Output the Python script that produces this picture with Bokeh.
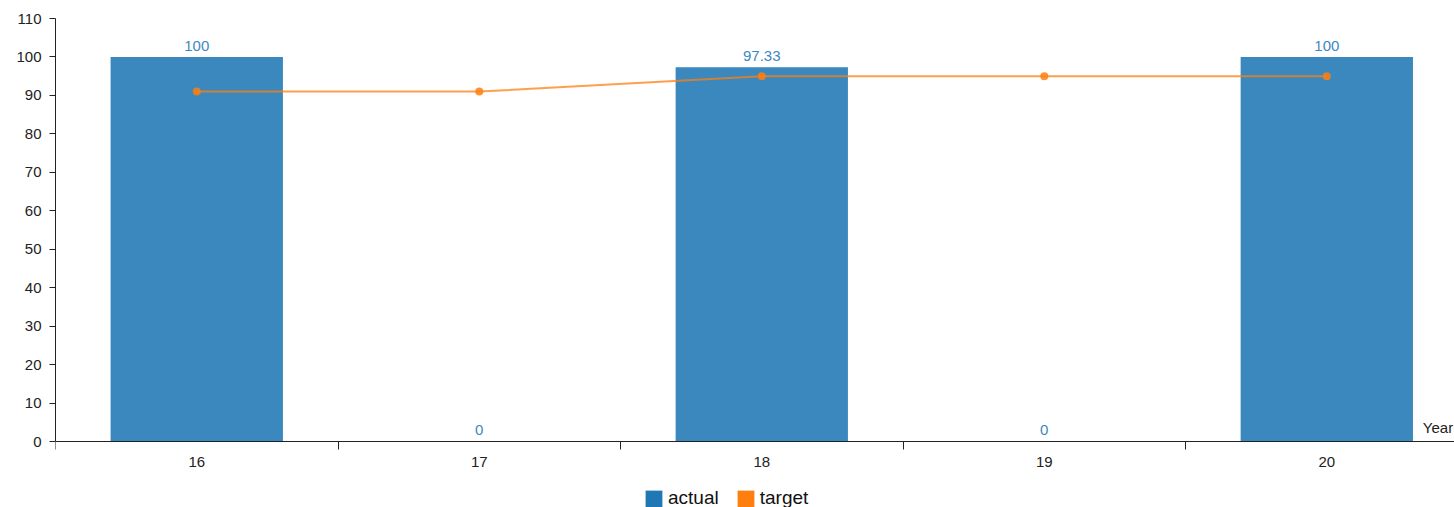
from bokeh.plotting import figure
from bokeh.models import (ColumnDataSource, FixedTicker, Legend, LegendItem,
                          CustomJSTickFormatter, Range1d)
from bokeh.core.properties import value
from bokeh.transform import dodge
from bokeh.embed import file_html
from bokeh.resources import INLINE

# data
years = ["16", "17", "18", "19", "20"]
actual = [100, 0, 97.33, 0, 100]
target = [91, 91, 95, 95, 95]
actual_labels = ["100", "0", "97.33", "0", "100"]
y_ticks = [0, 10, 20, 30, 40, 50, 60, 70, 80, 90, 100, 110]

FONT = "Liberation Sans"
BLUE = "#1f77b4"
ORANGE = "#ff7f0e"
AXIS = "#222222"

centers = [i + 0.5 for i in range(len(years))]
bounds = list(range(len(years) + 1))

src = ColumnDataSource(dict(x=centers, year=years, actual=actual,
                            target=target, label=actual_labels))

# the frame reaches the bottom of the canvas so the legend can sit under
# the category axis; the axis itself is pinned at y = 0
p = figure(width=1454, height=507, output_backend="svg", toolbar_location=None,
           x_range=Range1d(0, 4.952), y_range=Range1d(-17.16, 110),
           min_border_left=55, min_border_top=18, min_border_bottom=0,
           min_border_right=0, outline_line_color=None)
p.grid.visible = False
p.background_fill_color = "white"
p.border_fill_color = "white"

bars = p.vbar(x="x", top="actual", width=0.61, source=src,
              fill_color=BLUE, fill_alpha=0.88, line_color=None)
p.text(x="x", y=dodge("actual", 2.9, range=p.y_range), text="label",
       source=src, text_align="center", text_baseline="alphabetic",
       text_color="#3d88bf", text_font=value(FONT), text_font_size="15px")

line = p.line(x="x", y="target", source=src, line_color=ORANGE,
              line_width=2, line_alpha=0.75)
p.scatter(x="x", y="target", source=src, size=8, fill_color=ORANGE,
          line_color=None, fill_alpha=0.85)

# axis title at the right end of the category axis
p.text(x=[4.84], y=[3.6], text=["Year"], text_align="left",
       text_baseline="alphabetic", text_color=AXIS,
       text_font=value(FONT), text_font_size="15px")

# y axis
ya = p.yaxis[0]
ya.ticker = FixedTicker(ticks=y_ticks)
ya.bounds = (0, 110)
ya.axis_line_color = AXIS
ya.major_tick_line_color = AXIS
ya.major_tick_out = 6
ya.major_tick_in = 0
ya.minor_tick_line_color = None
ya.major_label_standoff = 8
ya.major_label_text_font = FONT
ya.major_label_text_font_size = "15px"
ya.major_label_text_color = AXIS

# x axis: labels at band centers, ticks at band boundaries
xa = p.xaxis[0]
xa.fixed_location = 0
xa.ticker = FixedTicker(ticks=centers, minor_ticks=bounds)
xa.formatter = CustomJSTickFormatter(args=dict(names=years), code="""
    return names[Math.floor(tick)];
""")
xa.axis_line_color = AXIS
xa.major_tick_line_color = None
xa.major_tick_out = 8
xa.major_tick_in = 0
xa.minor_tick_line_color = AXIS
xa.minor_tick_out = 8
xa.minor_tick_in = 0
xa.major_label_standoff = 7
xa.major_label_text_font = FONT
xa.major_label_text_font_size = "15px"
xa.major_label_text_color = AXIS

# legend swatches: renderers that hold no visible point
nan = float("nan")
sw_a = p.vbar(x=[nan], top=[nan], width=0.5, fill_color=BLUE, line_color=None)
sw_t = p.vbar(x=[nan], top=[nan], width=0.5, fill_color=ORANGE, line_color=None)
legend = Legend(items=[LegendItem(label="actual", renderers=[sw_a]),
                       LegendItem(label="target", renderers=[sw_t])],
                orientation="horizontal", location=(588, -2),
                glyph_width=21, glyph_height=21, label_standoff=4, spacing=16,
                padding=0, margin=0, border_line_color=None,
                background_fill_alpha=0, label_text_font=FONT,
                label_text_font_size="19px", label_text_color="#111111",
                label_height=17)
p.add_layout(legend, "center")

open("out.html", "w").write(file_html(p, INLINE))
